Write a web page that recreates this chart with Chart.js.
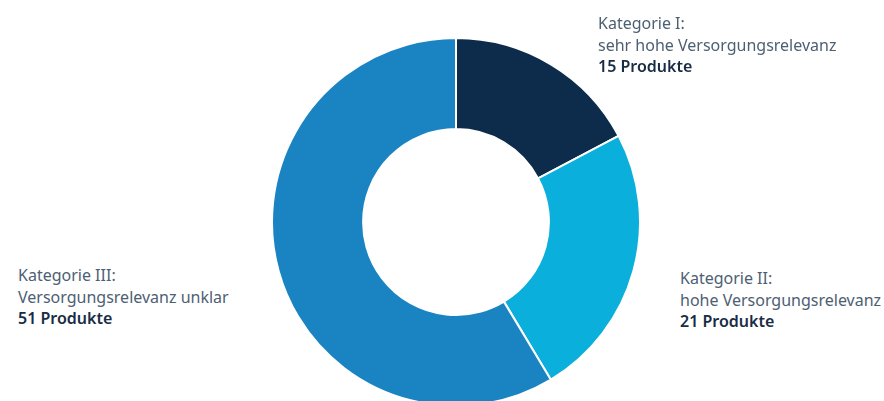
<!DOCTYPE html>
<html>
<head>
<meta charset="utf-8">
<script src="https://cdn.jsdelivr.net/npm/chart.js@4/dist/chart.umd.min.js"></script>
<style>
  html, body { margin: 0; padding: 0; background: #fff; overflow: hidden; }
  body { width: 884px; height: 401px; position: relative; font-family: "Noto Sans", sans-serif; }
  #wrap { position: absolute; left: 271px; top: 37px; width: 370px; height: 370px; }
  .lbl { position: absolute; font-size: 16px; line-height: 21.7px; color: #4d6073; white-space: nowrap; }
  .lbl b { color: #182d44; font-weight: 600; }
</style>
</head>
<body>
<div id="wrap"><canvas id="myChart"></canvas></div>

<script>
const categories = ["Kategorie I:", "Kategorie II:", "Kategorie III:"];
const descriptions = ["sehr hohe Versorgungsrelevanz", "hohe Versorgungsrelevanz", "Versorgungsrelevanz unklar"];
const productCounts = [15, 21, 51];
const sliceColors = ["#0d2c4b", "#0bafdc", "#1a84c3"];
const labelPos = [
    { left: 598, top: 13 },
    { left: 680, top: 268 },
    { left: 18, top: 265 }
];

categories.forEach(function (c, i) {
    const d = document.createElement("div");
    d.className = "lbl";
    d.style.left = labelPos[i].left + "px";
    d.style.top = labelPos[i].top + "px";
    d.innerHTML = c + "<br>" + descriptions[i] + "<br><b>" + productCounts[i] + " Produkte</b>";
    document.body.appendChild(d);
});

new Chart("myChart", {
    type: "doughnut",
    data: {
        labels: categories,
        datasets: [{
            data: productCounts,
            backgroundColor: sliceColors,
            borderColor: "#ffffff",
            borderWidth: 2
        }]
    },
    options: {
        responsive: true,
        maintainAspectRatio: false,
        animation: false,
        cutout: "50.5%",
        layout: { padding: 0 },
        plugins: {
            legend: { display: false },
            tooltip: { enabled: false }
        }
    }
});
</script>
</body>
</html>
